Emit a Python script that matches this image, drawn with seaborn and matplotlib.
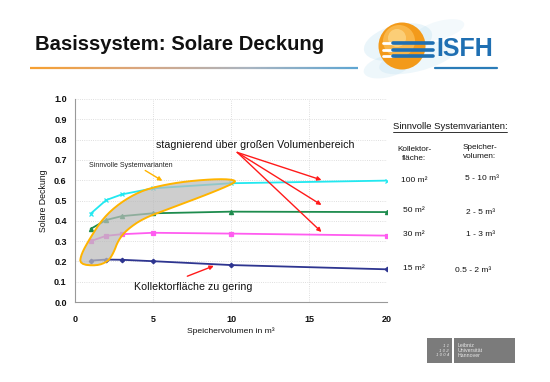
import numpy as np
import pandas as pd
import matplotlib
matplotlib.use("Agg")
import matplotlib.pyplot as plt
import seaborn as sns
from matplotlib.patches import Polygon, Circle, Rectangle, Ellipse
from matplotlib.collections import LineCollection
from matplotlib.colors import LinearSegmentedColormap

# ---------------- data ----------------
volumen = [1, 2, 3, 5, 10, 20]
deckung_100 = [0.435, 0.502, 0.530, 0.560, 0.585, 0.598]
deckung_50 = [0.360, 0.404, 0.423, 0.437, 0.445, 0.443]
deckung_30 = [0.300, 0.326, 0.334, 0.341, 0.337, 0.327]
deckung_15 = [0.204, 0.209, 0.208, 0.201, 0.182, 0.161]
flaechen = ["100 m²", "50 m²", "30 m²", "15 m²"]
speicher_bereiche = ["5 - 10 m³", "2 - 5 m³", "1 - 3 m³", "0.5 - 2 m³"]
x_ticks = [0, 5, 10, 15, 20]
y_ticks = [0.0, 0.1, 0.2, 0.3, 0.4, 0.5, 0.6, 0.7, 0.8, 0.9, 1.0]
# outline of the "sensible variants" region (volume, solar fraction)
bereich_x = [0.30, 1.39, 2.10, 2.46, 2.78, 3.31, 4.38, 6.09, 8.65, 10.10, 10.35,
             9.3, 7.16, 5.45, 4.17, 2.88, 1.81, 0.96, 0.40]
bereich_y = [0.186, 0.178, 0.199, 0.240, 0.305, 0.355, 0.412, 0.461, 0.535, 0.582,
             0.600, 0.607, 0.595, 0.573, 0.545, 0.488, 0.414, 0.314, 0.236]

farben = {"100 m²": "#22E8F0", "50 m²": "#1E8C4E", "30 m²": "#FF5CF0", "15 m²": "#2E3590"}
marker = {"100 m²": "x", "50 m²": "^", "30 m²": "s", "15 m²": "D"}
msize = {"100 m²": 3.0, "50 m²": 3.0, "30 m²": 2.6, "15 m²": 2.3}

rows = []
for name, vals in zip(flaechen, [deckung_100, deckung_50, deckung_30, deckung_15]):
    for v, d in zip(volumen, vals):
        rows.append({"Volumen": v, "Deckung": d, "Fläche": name})
df = pd.DataFrame(rows)


def chaikin(pts, n=2):
    """Round the corners of a closed outline."""
    for _ in range(n):
        nxt = np.roll(pts, -1, axis=0)
        q = 0.75 * pts + 0.25 * nxt
        r = 0.25 * pts + 0.75 * nxt
        pts = np.empty((2 * len(pts), 2))
        pts[0::2] = q
        pts[1::2] = r
    return pts


# ---------------- figure ----------------
sns.set_theme(style="white")
plt.rcParams["font.family"] = ["Liberation Sans", "DejaVu Sans"]

W, H = 550, 382
fig = plt.figure(figsize=(W / 100, H / 100), dpi=100)
fig.patch.set_facecolor("white")

# decoration layer in pixel coordinates
deco = fig.add_axes([0, 0, 1, 1], zorder=0)
deco.set_xlim(0, W)
deco.set_ylim(H, 0)
deco.axis("off")

# title
deco.text(35, 50, "Basissystem: Solare Deckung", fontsize=14.6, fontweight="bold",
          color="#111111", va="baseline", ha="left")

# gradient underline
xs = np.linspace(30, 358, 200)
segs = [[(xs[i], 68), (xs[i + 1], 68)] for i in range(len(xs) - 1)]
cmap = LinearSegmentedColormap.from_list("g", ["#F7A030", "#D9A680", "#A9B4C0", "#5FA6D2"])
lc = LineCollection(segs, colors=cmap(np.linspace(0, 1, len(segs))), linewidths=1.6)
deco.add_collection(lc)
deco.plot([435, 497], [68, 68], color="#2B7CB8", lw=1.6)

# ISFH logo
for cx, cy, w, h, a in [(398, 42, 70, 34, 0.18), (418, 58, 80, 26, 0.14), (388, 66, 50, 22, 0.14),
                        (440, 30, 50, 18, 0.10)]:
    deco.add_patch(Ellipse((cx, cy), w, h, angle=-15, color="#8CC8E6", alpha=a, lw=0))
deco.add_patch(Circle((402, 46), 23.5, color="#F39A1A", lw=0))
deco.add_patch(Circle((399, 41), 16, color="#FBBE55", lw=0, alpha=0.8))
deco.add_patch(Circle((397, 38), 9, color="#FDD98C", lw=0, alpha=0.7))
for yy in [43, 49.5, 56]:
    deco.plot([383, 393], [yy, yy], color="white", lw=2.0, solid_capstyle="round")
    deco.plot([393, 433], [yy, yy], color="#1F6FB2", lw=2.6, solid_capstyle="round")
deco.text(436, 56, "ISFH", fontsize=18, fontweight="bold", color="#1F6FB2",
          va="baseline", ha="left")

# Leibniz Universität Hannover logo
deco.add_patch(Rectangle((427, 338), 25, 25, color="#7B7B7B", lw=0))
deco.add_patch(Rectangle((454, 338), 61, 25, color="#7B7B7B", lw=0))
deco.text(449, 350.5, "1 1\n1 0 2\n1 0 0 4", fontsize=3.2, color="#E8E8E8", ha="right",
          va="center", linespacing=1.1, fontstyle="italic")
deco.text(458, 350.5, "Leibniz\nUniversität\nHannover", fontsize=3.8, color="#E8E8E8",
          ha="left", va="center", linespacing=1.1)

# right-hand text block
deco.text(393, 129, "Sinnvolle Systemvarianten:", fontsize=6.8, ha="left", va="baseline",
          color="#111111")
deco.plot([393, 507], [131.5, 131.5], color="#111111", lw=0.6)
deco.text(414, 154, "Kollektor-\nfläche:", fontsize=5.9, ha="center", va="center",
          linespacing=1.25, color="#111111")
deco.text(480, 152, "Speicher-\nvolumen:", fontsize=5.9, ha="center", va="center",
          linespacing=1.25, color="#111111")
for name, yy in zip(flaechen, [180, 211, 235, 268]):
    deco.text(414, yy, name, fontsize=6.0, ha="center", va="center", color="#111111")
for bereich, xx, yy in zip(speicher_bereiche, [482, 481, 481, 473], [178, 213, 235, 270]):
    deco.text(xx, yy, bereich, fontsize=6.0, ha="center", va="center", color="#111111")

# ---------------- main chart ----------------
ax = fig.add_axes([75 / W, 1 - 302 / H, (387 - 75) / W, (302 - 99) / H], zorder=2)
ax.patch.set_alpha(0)

for name in flaechen:
    sub = df[df["Fläche"] == name]
    sns.lineplot(data=sub, x="Volumen", y="Deckung", color=farben[name],
                 marker=marker[name], markersize=msize[name], markeredgewidth=0.9,
                 markeredgecolor=farben[name], lw=1.3, legend=False, ax=ax, zorder=2)

outline = chaikin(np.column_stack([bereich_x, bereich_y]), 2)
ax.add_patch(Polygon(outline, closed=True,
                     facecolor="#BBBBBB", alpha=0.72, edgecolor="none", zorder=3))
ax.add_patch(Polygon(outline, closed=True,
                     facecolor="none", edgecolor="#FFB400", lw=1.4, zorder=4,
                     joinstyle="round"))

ax.set_xlim(0, 20)
ax.set_ylim(0, 1.0)
ax.set_xticks(x_ticks)
ax.set_yticks(y_ticks)
ax.set_yticklabels([f"{v:.1f}" for v in y_ticks])
ax.tick_params(axis="both", labelsize=6.5, length=3, width=0.6, color="#888888",
               direction="out")
for lab in ax.get_xticklabels() + ax.get_yticklabels():
    lab.set_fontweight("bold")
    lab.set_color("#111111")
ax.tick_params(axis="x", pad=6)
ax.tick_params(axis="y", pad=3)
ax.grid(True, linestyle=":", color="#D4D4D4", lw=0.6)
for s in ["top", "right"]:
    ax.spines[s].set_visible(False)
for s in ["left", "bottom"]:
    ax.spines[s].set_color("#999999")
    ax.spines[s].set_linewidth(0.8)
ax.set_xlabel("Speichervolumen in m³", fontsize=6.1, color="#111111", labelpad=3)
ax.set_ylabel("Solare Deckung", fontsize=6.3, color="#111111", labelpad=4)

# annotations
ax.text(11.55, 0.773, "stagnierend über großen Volumenbereich", fontsize=7.7,
        ha="center", va="center", color="#111111")
for ty in [0.601, 0.478, 0.345]:
    ax.annotate("", xy=(15.8, ty), xytext=(10.4, 0.737),
                arrowprops=dict(arrowstyle="-|>", color="#FF1A1A", lw=1.0,
                                mutation_scale=6, shrinkA=0, shrinkB=0), zorder=5)
ax.text(7.6, 0.075, "Kollektorfläche zu gering", fontsize=7.7, ha="center", va="center",
        color="#111111")
ax.annotate("", xy=(8.9, 0.178), xytext=(7.2, 0.127),
            arrowprops=dict(arrowstyle="-|>", color="#FF1A1A", lw=1.0,
                            mutation_scale=6, shrinkA=0, shrinkB=0), zorder=5)
ax.text(0.9, 0.672, "Sinnvolle Systemvarianten", fontsize=5.0, ha="left", va="center",
        color="#222222")
ax.annotate("", xy=(5.6, 0.597), xytext=(4.5, 0.648),
            arrowprops=dict(arrowstyle="-|>", color="#FFB400", lw=1.0,
                            mutation_scale=6, shrinkA=0, shrinkB=0), zorder=5)

fig.savefig("out.png", dpi=100)
